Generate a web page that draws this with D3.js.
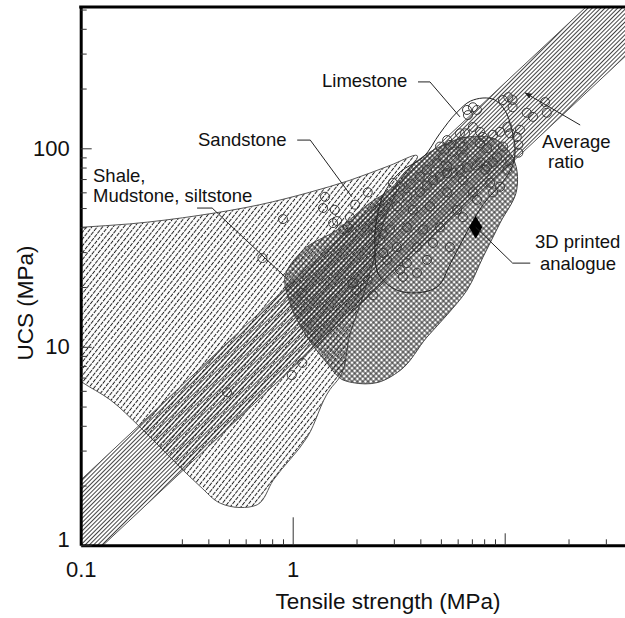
<!DOCTYPE html>
<html>
<head>
<meta charset="utf-8">
<script src="https://cdn.jsdelivr.net/npm/d3@7"></script>
<style>
  body { margin: 0; background: #fff; }
  svg { display: block; font-family: "Liberation Sans", Arial, sans-serif; }
</style>
</head>
<body>
<svg id="chart" width="625" height="618"></svg>
<script>
// Axis ticks
const xMajorTicks = [0.1, 1, 10];
const xTickLabels = ["0.1", "1", ""];
const xMinorTicks = [0.3, 0.4, 0.5, 0.6, 0.7, 0.8, 0.9, 2, 3, 4, 5, 6, 7, 8, 9, 20, 30];
const yMajorTicks = [1, 10, 100];
const yTickLabels = ["1", "10", "100"];
const yMinorTicks = [2, 3, 4, 5, 6, 7, 8, 9, 20, 30, 40, 50, 60, 70, 80, 90, 200, 300, 400, 500];

// Average ratio band (UCS / tensile strength)
const ratioLow = 7.85;
const ratioHigh = 21.3;

// Rock type envelopes (tensile MPa, UCS MPa)
const sandstoneT = [0.085, 0.1, 0.17, 0.366, 0.70, 1.2, 1.86, 2.88, 3.86, 3.21, 2.72, 2.39, 2.14, 1.86, 1.67, 1.50, 1.17, 0.81, 0.68, 0.565, 0.455, 0.366, 0.272, 0.19, 0.138, 0.1, 0.085];
const sandstoneU = [39.5, 40, 41.6, 46, 52, 60, 69, 82, 92, 65, 44, 26.4, 17.8, 11.5, 7.05, 6.1, 3.5, 2.13, 1.6, 1.55, 1.63, 1.98, 2.69, 3.95, 5.4, 6.7, 7.6];

const shaleT = [0.92, 1.12, 1.62, 2.31, 2.88, 3.46, 4.95, 6.64, 9.2, 10.9, 11.2, 11.4, 9.5, 7.9, 6.64, 5.35, 4.30, 3.21, 2.5, 1.92, 1.73, 1.45, 1.17, 0.97];
const shaleU = [22.5, 30.7, 38.8, 53, 62, 78, 102, 114, 110, 90, 84, 62, 42, 28.3, 19.3, 14.5, 11.2, 7.6, 6.6, 6.6, 6.8, 8.3, 11.2, 16.6];

const limestoneT = [3.21, 4.12, 4.95, 5.96, 6.9, 9.0, 10.0, 10.8, 11.2, 10.9, 10.3, 7.9, 6.64, 5.52, 4.8, 3.86, 3.1, 2.58, 2.44, 2.5, 2.67];
const limestoneU = [76, 90, 119, 152, 173, 175, 156, 124, 98, 82, 73, 52, 38, 26, 20, 18.7, 19.3, 22.5, 32.6, 45, 58];

// Test data (open circles)
const pointT = [0.49, 0.72, 0.90, 0.99, 1.11, 1.11, 1.39, 1.42, 1.55, 1.58, 1.62, 1.73, 1.82, 1.86, 1.92, 1.97, 1.99, 2.26, 2.26, 2.39,
  2.39, 2.58, 2.58, 2.58, 2.67, 2.67, 2.79, 2.88, 2.97, 3.10, 3.10, 3.21, 3.21, 3.31, 3.46, 3.46, 3.46, 3.6, 3.69, 3.86,
  3.86, 3.98, 3.98, 4.12, 4.30, 4.30, 4.30, 4.44, 4.59, 4.59, 4.8, 4.95, 4.95, 4.95, 5.12, 5.35, 5.35, 5.35, 5.35, 5.52,
  5.52, 5.70, 5.70, 5.96, 6.15, 6.15, 6.15, 6.36, 6.36, 6.36, 6.36, 6.5, 6.64, 6.64, 6.71, 7.08, 7.08, 7.08, 7.4, 7.4,
  7.4, 7.65, 7.65, 7.65, 7.9, 8.1, 8.26, 8.26, 8.53, 8.81, 8.81, 8.81, 9.2, 9.51, 9.51, 9.82, 9.82, 10.3, 10.3, 10.4,
  10.6, 10.6, 10.9, 10.9, 11.4, 11.6, 11.6, 11.8, 12.7, 13.6, 15.5, 15.8];
const pointU = [5.9, 28, 44, 7.2, 8.3, 18.7, 50, 57, 42, 49, 43, 39, 40, 45, 21, 52, 19.3, 60, 21.7, 40,
  18.2, 44, 50, 34.5, 37, 29.7, 27.4, 39, 67, 51, 31.8, 64, 24.4, 22.5, 57, 40, 26.4, 66, 49, 31.8,
  23.6, 72, 60, 39, 65, 78, 27.4, 51, 69, 33.3, 84, 102, 72, 40, 90, 110, 81, 75, 60, 104,
  31.8, 96, 75, 49, 119, 106, 78, 102, 90, 69, 45, 119, 156, 80, 147, 161, 128, 60, 82, 55,
  156, 121, 106, 85, 114, 78, 100, 81, 67, 117, 85, 60, 90, 121, 64, 175, 102, 128, 78, 181,
  119, 87, 175, 161, 114, 104, 95, 124, 151, 144, 171, 151];

// 3D printed analogue
const analogueT = [7.3];
const analogueU = [40];

const svg = d3.select('#chart');

const x = d3.scaleLog().domain([0.1, 40]).range([80.7, 80.7 + Math.log10(400) * 212]);
const y = d3.scaleLog().domain([1, 515]).range([545.3, 545.3 - Math.log10(515) * 198.5]);

const defs = svg.append('defs');

// Hatch pattern helper
function hatch(id, spacing, angle, stroke, sw, dash, h = 12) {
    const p = defs.append('pattern')
        .attr('id', id)
        .attr('patternUnits', 'userSpaceOnUse')
        .attr('width', spacing)
        .attr('height', h)
        .attr('patternTransform', `rotate(${angle})`);
    p.append('line')
        .attr('x1', spacing / 2).attr('x2', spacing / 2)
        .attr('y1', 0).attr('y2', h)
        .attr('stroke', stroke)
        .attr('stroke-width', sw)
        .attr('stroke-dasharray', dash || null);
}
hatch('bandHatch', 3, 45, '#222', 0.85);
hatch('sandHatch', 4.2, 38, '#1e1e1e', 1, '4 1', 10);

const cross = defs.append('pattern')
    .attr('id', 'crossHatch')
    .attr('patternUnits', 'userSpaceOnUse')
    .attr('width', 3.8).attr('height', 3.8)
    .attr('patternTransform', 'rotate(45)');
cross.append('line').attr('x1', 1.9).attr('x2', 1.9).attr('y1', 0).attr('y2', 3.8)
    .attr('stroke', '#2a2a2a').attr('stroke-width', 1);
cross.append('line').attr('y1', 1.9).attr('y2', 1.9).attr('x1', 0).attr('x2', 3.8)
    .attr('stroke', '#2a2a2a').attr('stroke-width', 1);

defs.append('clipPath').attr('id', 'plotClip')
    .append('rect')
    .attr('x', x.range()[0]).attr('y', y.range()[1])
    .attr('width', x.range()[1] - x.range()[0])
    .attr('height', y.range()[0] - y.range()[1]);

defs.append('marker')
    .attr('id', 'arrow')
    .attr('viewBox', '0 0 10 10')
    .attr('refX', 9).attr('refY', 5)
    .attr('markerWidth', 7).attr('markerHeight', 7)
    .attr('orient', 'auto')
    .append('path')
    .attr('d', 'M0,1L10,5L0,9Z')
    .attr('fill', '#222');

const plot = svg.append('g').attr('clip-path', 'url(#plotClip)');

const zip = (ts, us) => ts.map((t, i) => [t, us[i]]);
const smooth = d3.line().x(d => x(d[0])).y(d => y(d[1])).curve(d3.curveCatmullRomClosed.alpha(1));
const straight = d3.line().x(d => x(d[0])).y(d => y(d[1]));

// Sandstone envelope
plot.append('path')
    .attr('d', smooth(zip(sandstoneT, sandstoneU)))
    .attr('fill', 'url(#sandHatch)')
    .attr('stroke', '#555')
    .attr('stroke-width', 1);

// Average ratio band
const [tMin, tMax] = x.domain();
const band = [[tMin, tMin * ratioLow], [tMax, tMax * ratioLow], [tMax, tMax * ratioHigh], [tMin, tMin * ratioHigh]];
plot.append('path')
    .attr('d', straight(band) + 'Z')
    .attr('fill', 'url(#bandHatch)')
    .attr('stroke', 'none');
[ratioLow, ratioHigh].forEach(r => {
    plot.append('path')
        .attr('d', straight([[tMin, tMin * r], [tMax, tMax * r]]))
        .attr('fill', 'none')
        .attr('stroke', '#555')
        .attr('stroke-width', 1);
});

// Shale envelope
plot.append('path')
    .attr('d', smooth(zip(shaleT, shaleU)))
    .attr('fill', 'url(#crossHatch)')
    .attr('stroke', '#444')
    .attr('stroke-width', 1);

// Limestone envelope (outline)
plot.append('path')
    .attr('d', smooth(zip(limestoneT, limestoneU)))
    .attr('fill', 'none')
    .attr('stroke', '#222')
    .attr('stroke-width', 1);

// Data points
plot.selectAll('circle.pt')
    .data(zip(pointT, pointU))
    .enter()
    .append('circle')
    .attr('class', 'pt')
    .attr('cx', d => x(d[0]))
    .attr('cy', d => y(d[1]))
    .attr('r', 4.5)
    .attr('fill', 'none')
    .attr('stroke', '#3a3a3a')
    .attr('stroke-width', 1);

plot.selectAll('path.analogue')
    .data(zip(analogueT, analogueU))
    .enter()
    .append('path')
    .attr('class', 'analogue')
    .attr('transform', d => `translate(${x(d[0])},${y(d[1])})`)
    .attr('d', d3.symbol(d3.symbolDiamond, 150))
    .attr('fill', '#000');

// Annotation leaders
const leaders = [
    { pts: [[0.354, 50], [0.417, 50], [0.92, 22.5]] },
    { pts: [[1.05, 110], [1.21, 110], [1.9, 57]] },
    { pts: [[3.9, 216], [4.44, 216], [6.15, 144]] },
    { pts: [[22.7, 131], [12.5, 190]], arrow: true },
    { pts: [[7.3, 40], [10.9, 26.4], [13.2, 26.4]] }
];
leaders.forEach(l => {
    svg.append('path')
        .attr('d', straight(l.pts))
        .attr('fill', 'none')
        .attr('stroke', '#222')
        .attr('stroke-width', 1)
        .attr('marker-end', l.arrow ? 'url(#arrow)' : null);
});

const labels = [
    { text: 'Shale,', x: 93, y: 182 },
    { text: 'Mudstone, siltstone', x: 93, y: 202 },
    { text: 'Sandstone', x: 198, y: 146 },
    { text: 'Limestone', x: 322, y: 87 },
    { text: 'Average', x: 542, y: 148 },
    { text: 'ratio', x: 548, y: 168 },
    { text: '3D printed', x: 535, y: 248 },
    { text: 'analogue', x: 540, y: 270 }
];
svg.selectAll('text.note')
    .data(labels)
    .enter()
    .append('text')
    .attr('class', 'note')
    .attr('x', d => d.x)
    .attr('y', d => d.y)
    .attr('font-size', '18.5px')
    .attr('fill', '#111')
    .text(d => d.text);

// Axes
const xAxis = svg.append('g')
    .attr('transform', `translate(0,${y.range()[0]})`)
    .call(d3.axisBottom(x).tickValues(xMajorTicks)
        .tickFormat((d, i) => xTickLabels[i])
        .tickSize(-12).tickSizeOuter(0).tickPadding(16));
xAxis.selectAll('.tick').filter(d => d === 1).select('line').attr('y2', -28);

svg.append('g')
    .attr('transform', `translate(0,${y.range()[0]})`)
    .call(d3.axisBottom(x).tickValues(xMinorTicks).tickFormat('').tickSize(-6).tickSizeOuter(0))
    .select('.domain').remove();

const yAxis = svg.append('g')
    .attr('transform', `translate(${x.range()[0]},0)`)
    .call(d3.axisLeft(y).tickValues(yMajorTicks)
        .tickFormat((d, i) => yTickLabels[i])
        .tickSize(-11).tickSizeOuter(0).tickPadding(11));
yAxis.selectAll('.tick').filter(d => d === 1).select('text').attr('dy', '0.05em');

svg.append('g')
    .attr('transform', `translate(${x.range()[0]},0)`)
    .call(d3.axisLeft(y).tickValues(yMinorTicks).tickFormat('').tickSize(-6).tickSizeOuter(0))
    .select('.domain').remove();

svg.selectAll('.tick line').attr('stroke', '#333').attr('stroke-width', 1);
[xAxis, yAxis].forEach(a => {
    a.select('.domain').attr('stroke', '#000').attr('stroke-width', 3);
    a.selectAll('text')
        .attr('font-family', '"Liberation Sans", Arial, sans-serif')
        .attr('font-size', '22px')
        .attr('fill', '#111');
});

// Top border
svg.append('line')
    .attr('x1', x.range()[0] - 1.5).attr('x2', x.range()[1])
    .attr('y1', y.range()[1]).attr('y2', y.range()[1])
    .attr('stroke', '#000').attr('stroke-width', 3);

// Axis titles
svg.append('text')
    .attr('x', 388).attr('y', 609)
    .attr('text-anchor', 'middle')
    .attr('font-size', '22.5px')
    .attr('fill', '#111')
    .text('Tensile strength (MPa)');

svg.append('text')
    .attr('transform', 'translate(33,303) rotate(-90)')
    .attr('text-anchor', 'middle')
    .attr('font-size', '22.5px')
    .attr('fill', '#111')
    .text('UCS (MPa)');
</script>
</body>
</html>
